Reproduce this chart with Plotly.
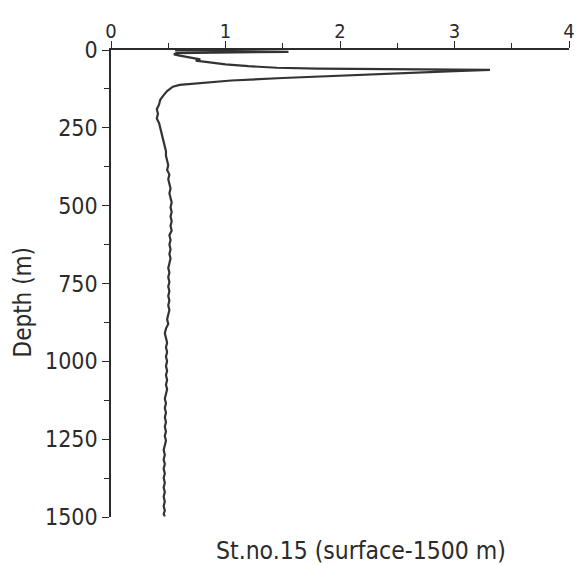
import plotly.graph_objects as go

# Upper-layer profile (depth in m, value)
depth_upper = [1, 6, 10, 14, 18, 22, 26, 30, 34, 40, 46, 52, 57, 60, 62, 64,
               68, 75, 82, 90, 98, 106, 112, 118, 125, 132, 145, 160, 175, 190,
               205, 220, 235, 250, 265, 280, 295, 310, 325, 340]
value_upper = [0.56, 1.55, 0.57, 0.55, 0.60, 0.66, 0.70, 0.78, 0.74, 0.88, 1.00, 1.20, 1.45, 1.80, 2.30, 3.31,
               3.00, 2.50, 2.00, 1.50, 1.05, 0.75, 0.60, 0.54, 0.51, 0.49, 0.46, 0.43, 0.42, 0.40,
               0.41, 0.40, 0.42, 0.43, 0.44, 0.45, 0.46, 0.47, 0.48, 0.48]

# Deep profile
depth_deep = [355, 370, 385, 400, 415, 430, 445, 460, 475, 490, 505, 520, 535, 550, 565,
              580, 595, 610, 625, 640, 655, 670, 685, 700, 715, 730, 745, 760, 775, 790,
              805, 820, 835, 850, 865, 880, 895, 910, 925, 940, 955, 970, 985, 1000, 1015,
              1030, 1045, 1060, 1075, 1090, 1105, 1120, 1135, 1150, 1165, 1180, 1195, 1210,
              1225, 1240, 1255, 1270, 1285, 1300, 1315, 1330, 1345, 1360, 1375, 1390, 1405,
              1420, 1435, 1450, 1465, 1480, 1490, 1498]
value_deep = [0.49, 0.50, 0.49, 0.51, 0.50, 0.51, 0.52, 0.51, 0.52, 0.53, 0.52, 0.53, 0.52, 0.53, 0.52,
              0.53, 0.51, 0.52, 0.51, 0.52, 0.51, 0.52, 0.51, 0.50, 0.51, 0.50, 0.51, 0.50, 0.51, 0.50,
              0.51, 0.50, 0.51, 0.50, 0.49, 0.50, 0.48, 0.47, 0.48, 0.49, 0.48, 0.49, 0.48, 0.49, 0.48,
              0.49, 0.48, 0.49, 0.48, 0.49, 0.48, 0.47, 0.48, 0.47, 0.48, 0.47, 0.48, 0.47,
              0.48, 0.47, 0.48, 0.47, 0.46, 0.47, 0.46, 0.47, 0.46, 0.47, 0.46, 0.47, 0.46,
              0.47, 0.46, 0.47, 0.46, 0.47, 0.46, 0.47]

depths = depth_upper + depth_deep
values = value_upper + value_deep

x_ticks = [0, 1, 2, 3, 4]
y_ticks = [0, 250, 500, 750, 1000, 1250, 1500]

FONT = "DejaVu Sans Condensed, DejaVu Sans, sans-serif"
INK = "#2b2b2b"

L, R, T, B = 111, 10, 50, 48
W, H = 579, 565
plot_w = W - L - R
plot_h = H - T - B

fig = go.Figure()
fig.add_trace(go.Scatter(x=values, y=depths, mode="lines",
                         line=dict(color="#333333", width=2.2), showlegend=False))

fig.update_layout(
    width=W, height=H,
    margin=dict(l=L, r=R, t=T, b=B, autoexpand=False),
    paper_bgcolor="white", plot_bgcolor="white",
    xaxis=dict(range=[0, 4], side="top", tickvals=x_ticks, ticktext=[str(v) for v in x_ticks],
               automargin=False, ticklabelstandoff=-5,
               showgrid=False, zeroline=False, showline=True, linecolor=INK, linewidth=1.5,
               ticks="outside", ticklen=7, tickcolor=INK, tickwidth=1.2,
               minor=dict(ticks="outside", ticklen=5, dtick=0.5, tick0=0, tickcolor=INK, tickwidth=1.2),
               tickfont=dict(family=FONT, size=20, color=INK)),
    yaxis=dict(range=[1500, 0], tickvals=y_ticks, ticktext=[str(v) for v in y_ticks],
               automargin=False,
               showgrid=False, zeroline=False, showline=True, linecolor=INK, linewidth=1.5,
               ticks="outside", ticklen=7, tickcolor=INK, tickwidth=1.2,
               minor=dict(ticks="outside", ticklen=5, dtick=125, tick0=0, tickcolor=INK, tickwidth=1.2),
               tickfont=dict(family=FONT, size=23, color=INK)),
    annotations=[
        dict(text="Depth (m)", x=(22.5 - L) / plot_w, y=(H - B - 302) / plot_h,
             xref="paper", yref="paper", showarrow=False, textangle=-90,
             xanchor="center", yanchor="middle",
             font=dict(family=FONT, size=24, color=INK)),
        dict(text="St.no.15 (surface-1500 m)", x=(361 - L) / plot_w, y=(H - B - 550) / plot_h,
             xref="paper", yref="paper", showarrow=False,
             xanchor="center", yanchor="middle",
             font=dict(family=FONT, size=24.5, color=INK)),
    ],
)

fig.write_html("out.html", config={"displayModeBar": False})

# remove the browser's default page margin so the figure sits at the window's top-left
with open("out.html", "r", encoding="utf-8") as f:
    html = f.read()
html = html.replace("<head>", "<head><style>html,body{margin:0;padding:0;overflow:hidden;}</style>", 1)
with open("out.html", "w", encoding="utf-8") as f:
    f.write(html)
